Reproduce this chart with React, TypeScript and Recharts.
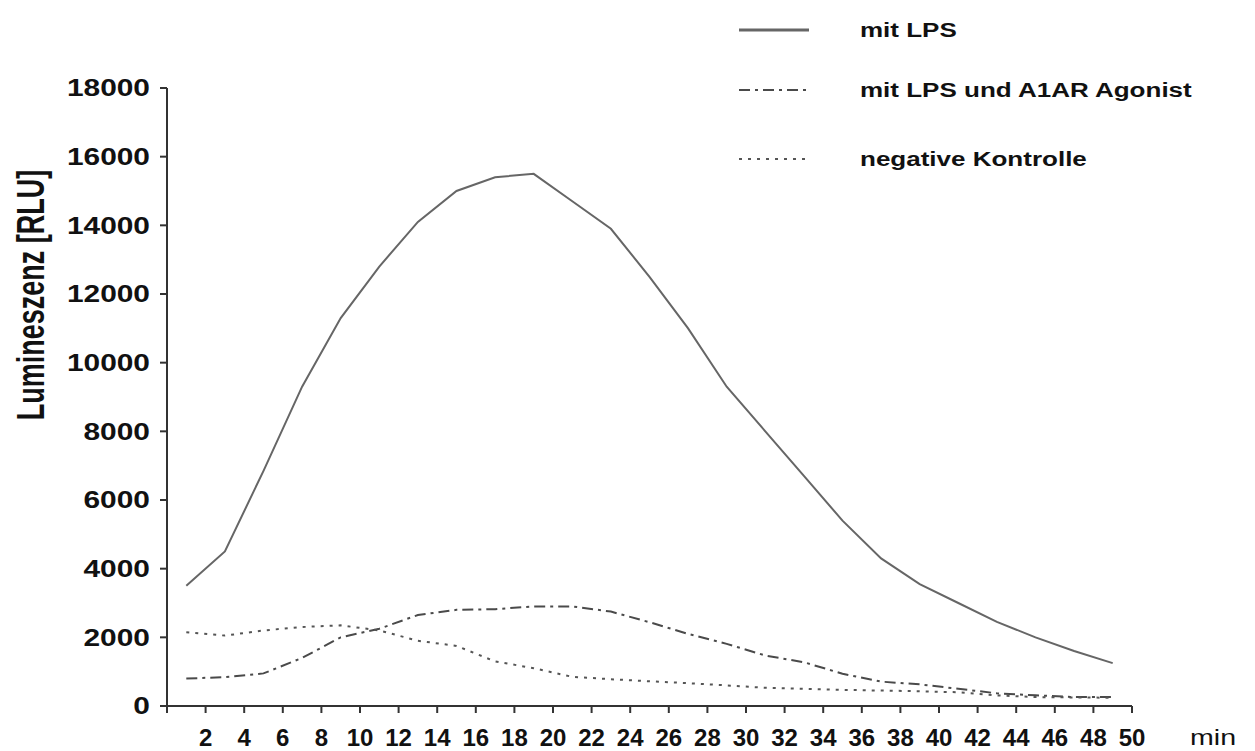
import React from 'react';
import { Legend, Line, LineChart, XAxis, YAxis } from 'recharts';

// minutes at which the readings were taken
const minutes = [1, 3, 5, 7, 9, 11, 13, 15, 17, 19, 21, 23, 25, 27, 29, 31, 33, 35, 37, 39, 41, 43, 45, 47, 49];

const mitLps = [
  3500, 4500, 6850, 9300, 11300, 12800, 14100, 15000, 15400, 15500, 14700, 13900, 12500,
  11000, 9300, 8000, 6700, 5400, 4300, 3550, 3000, 2450, 2000, 1600, 1250,
];

const mitLpsAgonist = [
  800, 840, 950, 1400, 2000, 2250, 2650, 2800, 2820, 2900, 2900, 2750, 2440,
  2100, 1810, 1470, 1275, 940, 710, 630, 500, 370, 310, 260, 260,
];

const negativeKontrolle = [
  2150, 2050, 2200, 2300, 2350, 2200, 1900, 1750, 1300, 1100, 850, 780, 720,
  665, 600, 530, 500, 470, 450, 430, 400, 310, 260, 250, 240,
];

const xTicks = [0, 2, 4, 6, 8, 10, 12, 14, 16, 18, 20, 22, 24, 26, 28, 30, 32, 34, 36, 38, 40, 42, 44, 46, 48, 50];
const yTicks = [0, 2000, 4000, 6000, 8000, 10000, 12000, 14000, 16000, 18000];

const data = minutes.map((min, i) => ({
  min,
  lps: mitLps[i],
  agonist: mitLpsAgonist[i],
  negativ: negativeKontrolle[i],
}));

const series = [
  { key: 'lps', name: 'mit LPS', color: '#666666', width: 2, dash: undefined as string | undefined },
  { key: 'agonist', name: 'mit LPS und A1AR Agonist', color: '#4a4a4a', width: 2, dash: '11 5 3 5' },
  { key: 'negativ', name: 'negative Kontrolle', color: '#555555', width: 2, dash: '3 6' },
];

const font = '"Liberation Sans", Arial, sans-serif';
const STRETCH = 1.3;
const legendRows = [30, 90, 159];

const stretchAt = (x: number, y: number, k = STRETCH) =>
  `translate(${x} ${y}) scale(${k} 1) translate(${-x} ${-y})`;

const YTick = ({ x, y, payload }: any) => (
  <text
    x={x}
    y={y}
    dy="0.36em"
    textAnchor="end"
    fontFamily={font}
    fontSize={23}
    fontWeight="bold"
    fill="#111"
    transform={stretchAt(x, y)}
  >
    {payload.value}
  </text>
);

const XTick = ({ x, y, payload }: any) => (
  <text
    x={x}
    y={y}
    dy="0.71em"
    textAnchor="middle"
    fontFamily={'"Liberation Sans Narrow", "Arial Narrow", ' + font}
    fontSize={24}
    fontWeight="bold"
    fill="#111"
  >
    {payload.value === 0 ? '' : payload.value}
  </text>
);

const MinLabel = ({ viewBox }: any) => {
  const x = viewBox.x + viewBox.width + 81;
  const y = viewBox.y + 39;
  return (
    <text x={x} y={y} textAnchor="middle" fontFamily={font} fontSize={22} fill="#111" transform={stretchAt(x, y)}>
      min
    </text>
  );
};

const YLabel = ({ viewBox }: any) => {
  const cx = viewBox.x + 30;
  const cy = viewBox.y + 207;
  return (
    <text
      transform={`translate(${cx} ${cy}) scale(1.45 1) rotate(-90)`}
      x={0}
      y={0}
      dy="0.36em"
      textAnchor="middle"
      fontFamily={font}
      fontSize={27}
      fontWeight="bold"
      fill="#111"
    >
      Lumineszenz [RLU]
    </text>
  );
};

const renderLegend = () => (
  <div style={{ position: 'relative', width: 1255, height: 190 }}>
    {series.map((s, i) => (
      <div
        key={s.key}
        style={{
          position: 'absolute',
          left: 738,
          top: legendRows[i] - 15,
          height: 30,
          display: 'flex',
          alignItems: 'center',
        }}
      >
        <svg width={72} height={30}>
          <line x1={1} y1={15} x2={71} y2={15} stroke={s.color} strokeWidth={s.dash ? 2 : 3} strokeDasharray={s.dash} />
        </svg>
        <span
          style={{
            marginLeft: 50,
            fontFamily: font,
            fontSize: 20,
            fontWeight: 'bold',
            color: '#111',
            whiteSpace: 'nowrap',
            display: 'inline-block',
            transform: `scaleX(${STRETCH})`,
            transformOrigin: 'left center',
          }}
        >
          {s.name}
        </span>
      </div>
    ))}
  </div>
);

export default function App() {
  return (
    <div style={{ position: 'absolute', left: 0, top: 0, background: '#fff' }}>
      <LineChart width={1255} height={751} data={data} margin={{ top: 88, right: 123, bottom: 0, left: 0 }}>
        <XAxis
          type="number"
          dataKey="min"
          domain={[0, 50]}
          ticks={xTicks}
          interval={0}
          height={45}
          tickSize={7}
          tickMargin={16}
          stroke="#333"
          strokeWidth={2}
          tick={<XTick />}
          label={<MinLabel />}
        />
        <YAxis
          type="number"
          domain={[0, 18000]}
          ticks={yTicks}
          interval={0}
          width={167}
          tickSize={7}
          tickMargin={10}
          stroke="#333"
          strokeWidth={2}
          tick={<YTick />}
          label={<YLabel />}
        />
        <Legend
          layout="horizontal"
          verticalAlign="middle"
          align="center"
          content={renderLegend}
          wrapperStyle={{ position: 'absolute', left: 0, top: 0, width: 1255 }}
        />
        {series.map((s) => (
          <Line
            key={s.key}
            type="linear"
            dataKey={s.key}
            name={s.name}
            stroke={s.color}
            strokeWidth={s.width}
            strokeDasharray={s.dash}
            dot={false}
            activeDot={false}
            isAnimationActive={false}
          />
        ))}
      </LineChart>
    </div>
  );
}
